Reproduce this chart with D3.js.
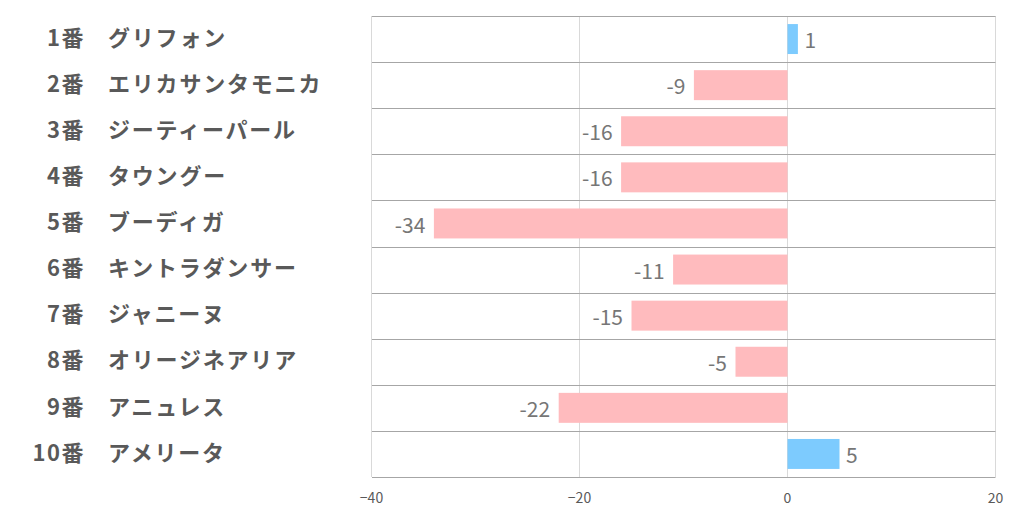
<!DOCTYPE html>
<html><head><meta charset="utf-8">
<script src="https://cdn.jsdelivr.net/npm/d3@7"></script>
<style>body{margin:0;background:#fff}svg{display:block}</style>
</head><body>
<svg id="c" width="1022" height="522"></svg>
<script>
const numbers = ["1番","2番","3番","4番","5番","6番","7番","8番","9番","10番"];
const names = ["グリフォン","エリカサンタモニカ","ジーティーパール","タウングー","ブーディガ","キントラダンサー","ジャニーヌ","オリージネアリア","アニュレス","アメリータ"];
const values = [1,-9,-16,-16,-34,-11,-15,-5,-22,5];
const ticks = [-40,-20,0,20];

const svg = d3.select("#c");
const L=372, R=995, T=16, B=477;
const x = d3.scaleLinear().domain([-40,20]).range([L-1,R]);
const y = d3.scaleBand().domain(d3.range(values.length)).range([T,B]).paddingInner(0.35).paddingOuter(0.175);
const rows = d3.scaleBand().domain(d3.range(values.length)).range([T,B]);

// vertical grid
svg.append("g").selectAll("line").data(ticks).join("line")
  .attr("x1",d=>x(d)+0.5).attr("x2",d=>x(d)+0.5).attr("y1",T).attr("y2",B)
  .attr("stroke","#d9d9d9");
// horizontal row lines
svg.append("g").selectAll("line").data(d3.range(values.length+1)).join("line")
  .attr("x1",L).attr("x2",R+0.5)
  .attr("y1",d=>Math.round(T+d*rows.step())+0.5).attr("y2",d=>Math.round(T+d*rows.step())+0.5)
  .attr("stroke","#a6a6a6");

// bars
svg.append("g").selectAll("rect").data(values).join("rect")
  .attr("x",d=>x(Math.min(0,d))+0.5).attr("width",d=>Math.abs(x(d)-x(0)))
  .attr("y",(d,i)=>y(i)).attr("height",y.bandwidth())
  .attr("fill",d=>d>=0?"#7dcbfe":"#ffbbbe");

// value labels
svg.append("g").selectAll("text").data(values).join("text")
  .attr("x",d=>d>=0?x(d)+7:x(d)-8)
  .attr("y",(d,i)=>y(i)+y.bandwidth()/2+1.5)
  .attr("dy","0.36em")
  .attr("text-anchor",d=>d>=0?"start":"end")
  .attr("font-family","'Noto Sans CJK JP', 'Noto Sans', sans-serif")
  .attr("font-size",21).attr("fill","#767676")
  .text(d=>d);

// category labels
const cat = svg.append("g").attr("font-family","'Noto Sans CJK JP', sans-serif")
  .attr("font-weight","bold").attr("font-size",22).attr("fill","#595959");
cat.selectAll("text.n").data(numbers).join("text").attr("class","n")
  .attr("x",85).attr("y",(d,i)=>rows(i)+rows.bandwidth()/2-1).attr("dy","0.35em")
  .attr("text-anchor","end").attr("letter-spacing",1.5).text(d=>d);
cat.selectAll("text.m").data(names).join("text").attr("class","m")
  .attr("x",108).attr("y",(d,i)=>rows(i)+rows.bandwidth()/2-1).attr("dy","0.35em")
  .attr("text-anchor","start").attr("letter-spacing",1.8).text(d=>d);

// x axis
const ax = svg.append("g").attr("transform",`translate(0,${B+16})`)
  .call(d3.axisBottom(x).tickValues(ticks).tickSize(0).tickPadding(0));
ax.select(".domain").remove();
ax.selectAll("text").attr("font-family","'Noto Sans CJK JP', 'Open Sans', sans-serif")
  .attr("font-size",14).attr("fill","#595959");
</script>
</body></html>
